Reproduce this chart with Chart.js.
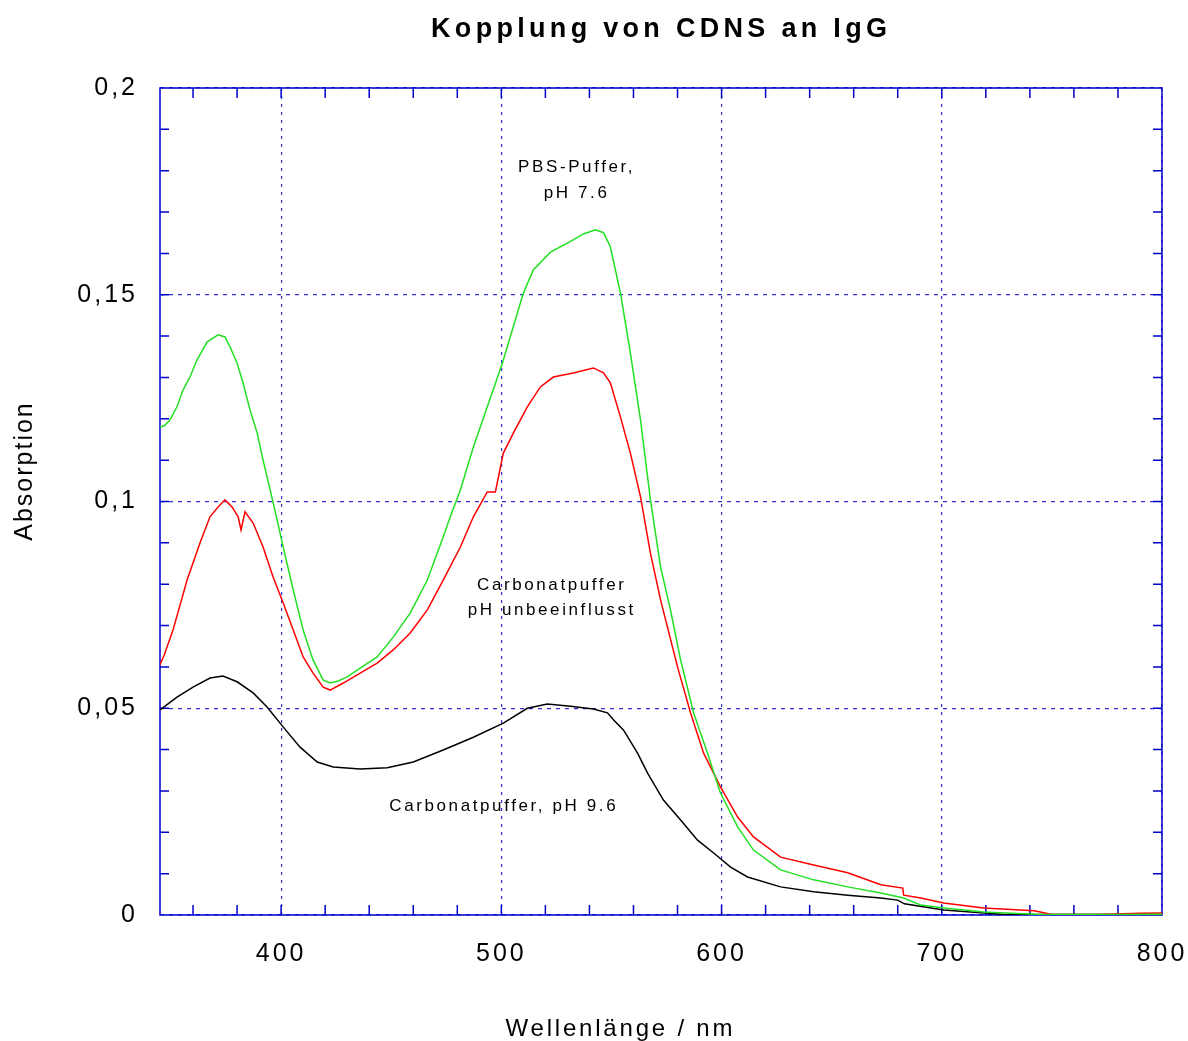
<!DOCTYPE html>
<html>
<head>
<meta charset="utf-8">
<title>Kopplung von CDNS an IgG</title>
<script src="https://cdn.jsdelivr.net/npm/chart.js@4.4.1/dist/chart.umd.min.js"></script>
<style>
  body { margin: 0; background: #fff; }
</style>
</head>
<body>
<canvas id="chart" width="1188" height="1041"></canvas>
<script>
const pbsNm = [345, 347, 349.5, 352.7, 355.5, 358.6, 361.8, 366.4, 371.4, 374.5, 376.8, 380, 382.7, 385.9, 389.1, 391.8, 395, 398.2, 400.5, 405.5, 410, 414.5, 419.1, 422.3, 426, 430, 435.9, 443.6, 450.9, 458.6, 466.4, 473.6, 476.8, 481.4, 487.3, 500.5, 510, 514.5, 522.3, 530, 537.3, 542.7, 546.4, 549.5, 554.1, 558.6, 563.2, 567.7, 572.3, 576.8, 581.4, 587.3, 593.6, 599.5, 607.3, 614.5, 626.8, 641.8, 657.3, 672.3, 682.7, 690.5, 700.9, 719, 742, 760, 780, 800];
const pbsAbs = [0.118, 0.1183, 0.1197, 0.1229, 0.127, 0.1301, 0.1342, 0.1386, 0.1403, 0.1398, 0.1374, 0.1335, 0.1287, 0.1221, 0.1166, 0.11, 0.1028, 0.0955, 0.09, 0.0786, 0.0689, 0.0617, 0.0568, 0.0561, 0.0566, 0.0576, 0.0597, 0.0624, 0.0672, 0.073, 0.081, 0.0914, 0.0963, 0.1028, 0.1132, 0.1335, 0.1504, 0.156, 0.1603, 0.1625, 0.1647, 0.1657, 0.165, 0.1616, 0.1504, 0.1359, 0.1197, 0.1004, 0.0842, 0.0738, 0.0617, 0.0489, 0.0392, 0.0295, 0.0213, 0.0157, 0.0109, 0.0085, 0.0068, 0.0053, 0.0041, 0.0024, 0.0017, 0.0007, 0.0002, 0.0001, 0.0001, 0.0002];

const carbNm = [345, 347, 350.9, 357.3, 363.2, 367.7, 371.4, 374.5, 377.7, 380.5, 381.8, 383.6, 387.3, 391.8, 396.4, 400.9, 405.5, 410, 414.5, 419.1, 422.3, 428.2, 435.9, 443.6, 450.9, 458.6, 466.4, 473.6, 481.4, 487.3, 493.6, 497.3, 500.9, 505.5, 511.8, 517.7, 523.6, 532.7, 541.8, 546.4, 549.5, 554.1, 558.6, 563.2, 567.7, 572.3, 580, 585.9, 591.8, 599.5, 607.3, 614.5, 626.8, 641.8, 657.3, 672.3, 682.3, 682.7, 690.5, 700.9, 719, 742, 749.5, 770, 790, 800];
const carbAbs = [0.0605, 0.063, 0.0689, 0.081, 0.09, 0.0963, 0.0987, 0.1004, 0.0987, 0.0963, 0.0931, 0.0975, 0.0948, 0.089, 0.0817, 0.0755, 0.0689, 0.0624, 0.0585, 0.0551, 0.0544, 0.0561, 0.0585, 0.0609, 0.0641, 0.0682, 0.0738, 0.081, 0.089, 0.0963, 0.1023, 0.1023, 0.1117, 0.1166, 0.1229, 0.1277, 0.1301, 0.1311, 0.1323, 0.1311, 0.1287, 0.1204, 0.1117, 0.1011, 0.0875, 0.0762, 0.06, 0.0489, 0.0392, 0.031, 0.0237, 0.0189, 0.014, 0.0121, 0.0102, 0.0073, 0.0065, 0.0048, 0.0041, 0.0029, 0.0017, 0.001, 0.0002, 0.0001, 0.0004, 0.0005];

const ph96Nm = [345, 352.7, 360, 367.7, 373.6, 380, 387.3, 393.6, 400.9, 408.6, 416.4, 423.6, 435.9, 448.2, 460, 473.6, 487.3, 500.9, 511.8, 520.9, 531.4, 541.8, 548.2, 550.9, 555.5, 561.8, 566.4, 573.6, 581.4, 589.1, 596.4, 604.1, 611.8, 626.8, 641.8, 657.3, 672.3, 680, 683, 700.9, 727, 760, 800];
const ph96Abs = [0.0496, 0.0527, 0.0551, 0.0573, 0.0578, 0.0564, 0.0537, 0.0503, 0.0455, 0.0406, 0.037, 0.0358, 0.0353, 0.0356, 0.037, 0.0399, 0.043, 0.0464, 0.05, 0.051, 0.0505, 0.0498, 0.0489, 0.0472, 0.0447, 0.0392, 0.0343, 0.0278, 0.023, 0.0181, 0.015, 0.0116, 0.0092, 0.0068, 0.0056, 0.0048, 0.0041, 0.0036, 0.0027, 0.0012, 0.0002, 0.0001, 0.0001];

const xTicks = [400, 500, 600, 700, 800];
const yTicks = [0, 0.05, 0.1, 0.15, 0.2];

const AXIS = "#0000cc";
const GRID = "#3030d8";
const FONT = '"Liberation Sans", Arial, sans-serif';

function points(xs, ys) {
  return xs.map((v, i) => ({ x: v, y: ys[i] }));
}

// minor ticks every 20 nm and every 0.01
const xMinor = [];
for (let v = 360; v <= 780; v += 20) xMinor.push(v);
const yMinor = [];
for (let i = 1; i < 20; i++) yMinor.push(i / 100);

const spacing = {
  id: "spacing",
  beforeLayout(chart) { chart.ctx.letterSpacing = "3px"; },
  beforeDraw(chart) { chart.ctx.letterSpacing = "3px"; },
};

const frame = {
  id: "frame",
  beforeDatasetsDraw(chart) {
    const { ctx, chartArea: a, scales: { x, y } } = chart;
    ctx.save();
    ctx.strokeStyle = AXIS;
    ctx.lineWidth = 1.5;
    ctx.strokeRect(a.left, a.top, a.right - a.left, a.bottom - a.top);
    ctx.beginPath();
    for (const v of xMinor) {
      const px = x.getPixelForValue(v);
      ctx.moveTo(px, a.bottom); ctx.lineTo(px, a.bottom - 10);
      ctx.moveTo(px, a.top); ctx.lineTo(px, a.top + 10);
    }
    for (const v of yMinor) {
      const py = y.getPixelForValue(v);
      ctx.moveTo(a.left, py); ctx.lineTo(a.left + 9, py);
      ctx.moveTo(a.right, py); ctx.lineTo(a.right - 9, py);
    }
    ctx.stroke();
    ctx.restore();
  },
};

const labels = {
  id: "labels",
  afterDraw(chart) {
    const { ctx, scales: { x, y } } = chart;
    const text = (s, px, py, font, sp) => {
      ctx.font = font;
      ctx.letterSpacing = sp + "px";
      ctx.fillText(s, px + sp / 2, py);
    };
    ctx.save();
    ctx.fillStyle = "#000";
    ctx.textAlign = "center";
    ctx.textBaseline = "middle";

    text("Kopplung von CDNS an IgG", 659, 30, "bold 27px " + FONT, 4.3);

    const small = "17px " + FONT;
    text("PBS-Puffer,", x.getPixelForValue(533.6), y.getPixelForValue(0.1807), small, 2.6);
    text("pH 7.6", x.getPixelForValue(533.6), y.getPixelForValue(0.1746), small, 2.6);
    text("Carbonatpuffer", x.getPixelForValue(522.3), y.getPixelForValue(0.0798), small, 2.6);
    text("pH unbeeinflusst", x.getPixelForValue(522.3), y.getPixelForValue(0.0738), small, 2.6);
    text("Carbonatpuffer, pH 9.6", x.getPixelForValue(500.5), y.getPixelForValue(0.0264), small, 2.6);

    text("Wellenlänge / nm", 619, 1029, "24px " + FONT, 2.8);

    ctx.translate(25, 472);
    ctx.rotate(-Math.PI / 2);
    text("Absorption", 0, 0, "25px " + FONT, 2);
    ctx.restore();
  },
};

const line = (label, data, color) => ({
  label,
  data,
  borderColor: color,
  borderWidth: 1.5,
  pointRadius: 0,
  tension: 0,
  fill: false,
});

new Chart(document.getElementById("chart"), {
  type: "line",
  data: {
    datasets: [
      line("PBS-Puffer, pH 7.6", points(pbsNm, pbsAbs), "#22e022"),
      line("Carbonatpuffer pH unbeeinflusst", points(carbNm, carbAbs), "#ff0000"),
      line("Carbonatpuffer, pH 9.6", points(ph96Nm, ph96Abs), "#000000"),
    ],
  },
  options: {
    responsive: false,
    animation: false,
    devicePixelRatio: 1,
    layout: { padding: { top: 88, right: 26, left: 0, bottom: 0 } },
    plugins: { legend: { display: false }, tooltip: { enabled: false } },
    scales: {
      x: {
        type: "linear",
        min: 345,
        max: 800,
        afterBuildTicks(s) { s.ticks = xTicks.map((v) => ({ value: v })); },
        afterFit(s) { s.height = 126; s.paddingLeft = 0; s.paddingRight = 0; },
        ticks: { color: "#000", font: { family: FONT, size: 25 }, padding: 24, maxRotation: 0 },
        grid: { color: GRID, lineWidth: 1.2, drawTicks: false },
        border: { display: false, dash: [3, 5] },
      },
      y: {
        min: 0,
        max: 0.2,
        afterBuildTicks(s) { s.ticks = yTicks.map((v) => ({ value: v })); },
        afterFit(s) { s.width = 160; s.paddingTop = 0; s.paddingBottom = 0; },
        ticks: {
          color: "#000",
          font: { family: FONT, size: 25 },
          padding: 22,
          callback: (v) => String(Math.round(v * 100) / 100).replace(".", ","),
        },
        grid: { color: GRID, lineWidth: 1.2, drawTicks: false },
        border: { display: false, dash: [4, 5] },
      },
    },
  },
  plugins: [spacing, frame, labels],
});
</script>
</body>
</html>
